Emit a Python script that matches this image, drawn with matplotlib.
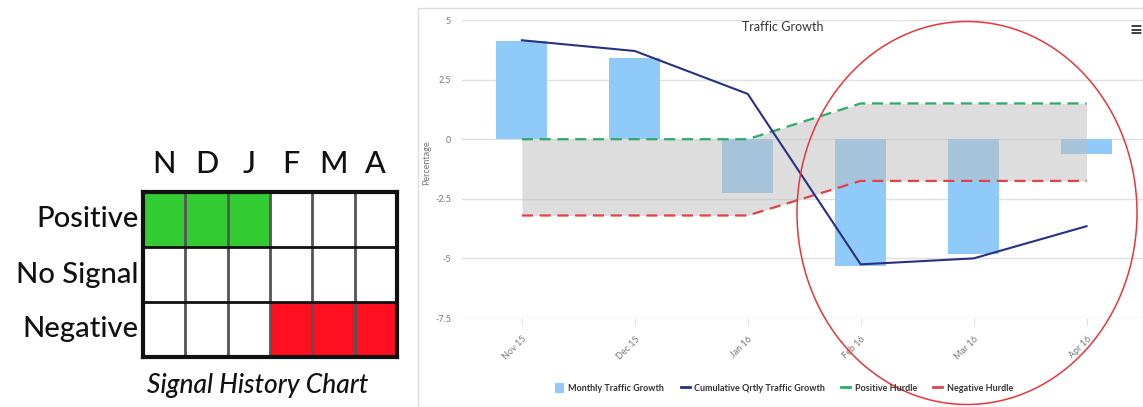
import matplotlib.pyplot as plt
import numpy as np
from matplotlib.patches import Ellipse, Rectangle
from matplotlib.lines import Line2D

plt.rcParams['font.family'] = ['Lato', 'DejaVu Sans']

# signal history grid
months_short = ["N", "D", "J", "F", "M", "A"]
signal_rows = ["Positive", "No Signal", "Negative"]
# 1 = positive, -1 = negative, 0 = no signal, one per month
signal_state = [1, 1, 1, -1, -1, -1]

# traffic growth chart
months = ["Nov 15", "Dec 15", "Jan 16", "Feb 16", "Mar 16", "Apr 16"]
monthly_growth = [4.1, 3.4, -2.25, -5.3, -4.8, -0.6]
cumulative_growth = [4.15, 3.7, 1.9, -5.25, -5.0, -3.65]
positive_hurdle = [0, 0, 0, 1.5, 1.5, 1.5]
negative_hurdle = [-3.2, -3.2, -3.2, -1.75, -1.75, -1.75]

W, H = 1143, 407
fig = plt.figure(figsize=(W / 100, H / 100), dpi=100)

# ---------------- left panel: signal grid ----------------
gx0, gx1, gy0, gy1 = 143, 397, 192, 357
axg = fig.add_axes([gx0 / W, 1 - gy1 / H, (gx1 - gx0) / W, (gy1 - gy0) / H])
axg.set_xlim(0, 6)
axg.set_ylim(3, 0)
for j, s in enumerate(signal_state):
    for i in range(3):
        row_val = [1, 0, -1][i]
        if s == row_val and s != 0:
            c = '#33cc33' if s > 0 else '#ff0f1f'
            axg.add_patch(Rectangle((j, i), 1, 1, facecolor=c, edgecolor='none'))
for j in range(1, 6):
    axg.plot([j, j], [0, 3], color='#555555', lw=2)
for i in range(1, 3):
    axg.plot([0, 6], [i, i], color='#111111', lw=2)
axg.set_xticks([])
axg.set_yticks([])
for sp in axg.spines.values():
    sp.set_linewidth(3)
    sp.set_color('#111111')

for j, m in enumerate(months_short):
    axg.text(j + 0.5, -0.25, m, ha='center', va='bottom', fontsize=22,
             color='#111111', fontweight='medium')
for i, r in enumerate(signal_rows):
    axg.text(-0.1, i + 0.5, r, ha='right', va='center', fontsize=21,
             color='#111111', fontweight='medium')
fig.text(258 / W, 1 - 385 / H, "Signal History Chart", ha='center', va='center',
         fontsize=19, style='italic', color='#111111', fontweight='medium')

# ---------------- right panel: traffic growth ----------------
fig.add_artist(Rectangle((418 / W, 0), 1 - 418 / W, 1 - 8 / H, transform=fig.transFigure,
                         facecolor='none', edgecolor='#dddddd', lw=1))

ax = fig.add_axes([462 / W, 1 - 318 / H, 1 - 462 / W, (318 - 20) / H])
x = np.arange(len(months))
ax.bar(x, monthly_growth, width=0.45, color='#90caf9', zorder=2)
ax.fill_between(x, negative_hurdle, positive_hurdle, color='#bdbdbd', alpha=0.5,
                lw=0, zorder=3)
ax.plot(x, cumulative_growth, color='#283084', lw=1.5, zorder=5)
ax.plot(x, positive_hurdle, color='#2eaa6a', lw=1.6, dashes=(5, 3), zorder=4)
ax.plot(x, negative_hurdle, color='#e04248', lw=1.6, dashes=(5, 3), zorder=4)

ax.set_xlim(-0.53, 5.5)
ax.set_ylim(-7.5, 5)
ax.set_yticks([5, 2.5, 0, -2.5, -5, -7.5])
ax.set_yticklabels(["5", "2.5", "0", "-2.5", "-5", "-7.5"])
ax.yaxis.grid(True, color='#e0e0e0', lw=1)
ax.set_axisbelow(True)
ax.tick_params(axis='y', length=0, labelsize=6.5, labelcolor='#777777', pad=8)
ax.set_xticks(x)
ax.set_xticklabels(months, rotation=45, ha='right', rotation_mode='anchor')
ax.tick_params(axis='x', length=6, color='#e0e0e0', labelsize=6.5,
               labelcolor='#777777', pad=6)
for sp in ax.spines.values():
    sp.set_visible(False)
ax.set_ylabel("Percentage", fontsize=6.5, color='#777777', labelpad=2)
ax.yaxis.set_label_coords(-0.045, 0.52)

fig.text(783 / W, 1 - 27 / H, "Traffic Growth", ha='center', va='center',
         fontsize=9, color='#333333')
fig.text(1136 / W, 1 - 30 / H, "\u2261", ha='center', va='center',
         fontsize=16, color='#444444', fontweight='bold')

handles = [
    Rectangle((0, 0), 1, 1, facecolor='#90caf9', edgecolor='none'),
    Line2D([], [], color='#283084', lw=2),
    Line2D([], [], color='#2eaa6a', lw=2),
    Line2D([], [], color='#e04248', lw=2),
]
labels = ["Monthly Traffic Growth", "Cumulative Qrtly Traffic Growth",
          "Positive Hurdle", "Negative Hurdle"]
leg = fig.legend(handles, labels, loc='center', bbox_to_anchor=(784 / W, 1 - 388 / H),
                 ncol=4, frameon=False, fontsize=6.5, handlelength=1.0,
                 handleheight=1.3, handletextpad=0.5, columnspacing=1.8)
for t in leg.get_texts():
    t.set_color('#333333')
    t.set_fontweight('bold')

# red highlight circle
fig.add_artist(Ellipse((967 / W, 1 - 213 / H), 340 / W, 383 / H, transform=fig.transFigure,
                       facecolor='none', edgecolor='#e8363a', lw=1.1))

fig.savefig("out.png", dpi=100)
